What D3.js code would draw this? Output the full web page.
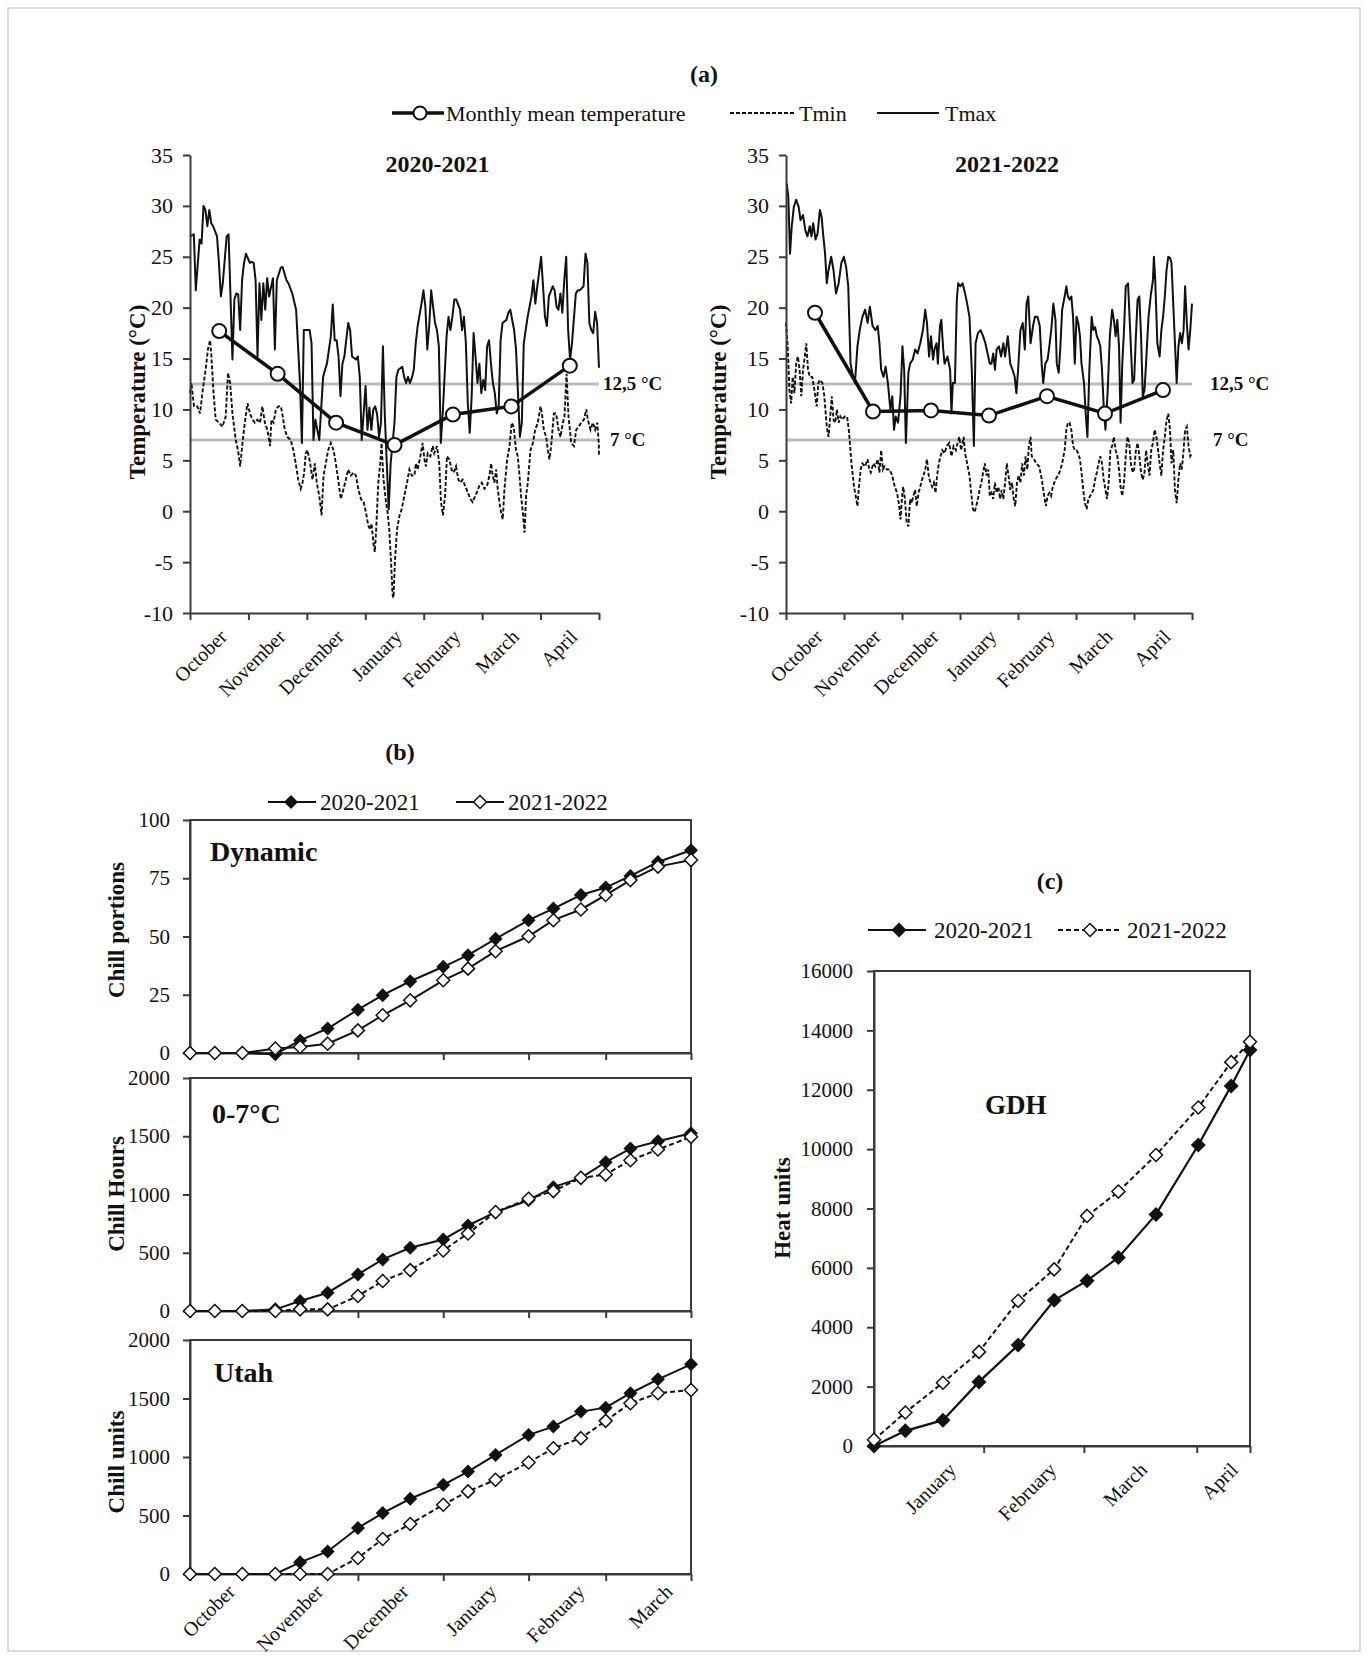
<!DOCTYPE html>
<html><head><meta charset="utf-8">
<script src="https://cdn.jsdelivr.net/npm/d3@7/dist/d3.min.js"></script>
<style>
body{margin:0;background:#fff}
svg{display:block}
text{font-family:"Liberation Serif","Times New Roman",serif;fill:#111}
</style>
</head><body>
<svg id="chart" width="1368" height="1659"></svg>
<script>
// ---------------- DATA ----------------
const months = ["October","November","December","January","February","March","April"];
const thresholds = [12.5, 7];
const thresholdLabels = ["12,5 °C", "7 °C"];
const tempTicks = [-10,-5,0,5,10,15,20,25,30,35];

// monthly mean temperature
const mean2021 = [17.7,13.5,8.7,6.5,9.5,10.3,14.3];
const mean2122 = [19.5,9.8,9.9,9.4,11.3,9.6,11.9];

// daily Tmax / Tmin  [day since 1 Oct, °C]
const tmax2021 = [[0,27.0],[2,27.2],[3,21.7],[5,26.7],[6,26.3],[7,30.0],[8,29.6],[9,28.0],[10,29.6],[11,28.3],[12,28.0],[14,27.0],[15,24.4],[16,21.1],[17,22.4],[19,27.0],[20,27.2],[22,14.9],[23,20.8],[24,21.4],[25,21.3],[26,17.8],[27,22.7],[28,24.4],[29,25.3],[31,24.4],[32,24.5],[33,24.4],[34,22.7],[35,15.2],[36,22.4],[37,18.8],[38,22.4],[39,19.8],[40,22.9],[41,21.1],[43,22.9],[44,15.9],[45,22.7],[47,23.9],[48,24.0],[50,22.7],[51,22.4],[53,21.4],[55,19.8],[57,12.6],[58,6.7],[59,17.8],[62,17.8],[63,16.5],[64,7.0],[65,9.0],[67,7.0],[69,13.2],[70,13.9],[71,14.5],[73,17.2],[74,20.3],[75,16.8],[76,16.8],[77,15.2],[78,11.3],[79,14.5],[80,15.2],[82,18.5],[83,17.8],[84,15.2],[86,14.9],[87,15.2],[88,13.2],[89,7.0],[90,9.6],[91,12.3],[92,8.0],[93,10.2],[94,8.0],[95,10.0],[96,10.3],[97,9.5],[98,7.3],[99,8.7],[100,16.2],[101,9.3],[102,4.7],[103,0.2],[104,4.7],[106,8.7],[107,13.2],[108,13.9],[110,14.2],[111,13.2],[112,12.6],[113,13.2],[114,12.6],[115,13.1],[116,13.9],[117,16.5],[118,18.2],[120,20.4],[121,21.7],[122,20.1],[123,15.9],[124,18.2],[125,21.7],[126,20.1],[127,18.5],[128,17.8],[129,16.2],[130,6.7],[131,9.6],[133,17.2],[134,19.1],[135,17.8],[136,19.1],[137,20.8],[138,20.8],[140,19.8],[141,17.8],[142,19.1],[143,16.5],[144,10.6],[145,7.7],[146,11.3],[147,17.5],[148,15.2],[149,12.6],[150,14.5],[151,11.6],[152,12.9],[153,11.9],[154,16.2],[155,16.8],[156,14.5],[157,12.6],[158,11.6],[159,9.6],[160,10.3],[161,16.8],[162,18.5],[164,18.8],[165,19.5],[166,19.8],[168,17.8],[169,15.9],[170,11.6],[171,7.3],[172,8.7],[173,16.5],[174,17.8],[175,19.1],[177,21.1],[178,22.7],[179,20.4],[180,22.1],[182,25.0],[183,22.1],[184,19.1],[185,18.2],[186,21.1],[188,22.1],[189,21.7],[190,20.1],[191,19.8],[192,21.4],[193,19.5],[194,22.7],[195,25.0],[196,17.8],[197,14.9],[198,16.5],[200,21.4],[201,21.7],[202,21.7],[204,22.1],[205,25.3],[206,24.4],[207,18.5],[208,17.8],[209,17.5],[210,19.6],[211,18.5],[212,14.1]];
const tmin2021 = [[0,11.6],[0.7,12.6],[2.1,10.3],[3.8,10.3],[5.2,9.6],[6.4,11.6],[8.1,13.9],[9.3,15.9],[10.4,16.8],[11.1,15.2],[12.1,11.9],[13.3,9.0],[15.1,8.7],[16.8,8.3],[18.5,9.3],[19.7,13.6],[20.8,12.6],[22,9.6],[23.7,7.0],[24.9,6.0],[26,4.4],[27.2,6.7],[28.4,8.7],[29.8,10.6],[31.1,9.6],[32.4,9.0],[33.6,8.7],[34.9,9.0],[36.3,8.7],[37.5,10.3],[38.8,8.7],[40.1,8.0],[41.5,6.4],[42.2,9.0],[43.3,8.7],[44.5,10.0],[45.7,10.3],[47.1,10.3],[48.1,9.3],[49.1,8.0],[50.5,7.3],[52.2,7.0],[53.6,6.0],[54.8,4.7],[56.1,3.1],[57.4,2.2],[58.3,2.8],[59.2,3.8],[60,5.7],[60.9,6.0],[62.3,4.7],[63.5,3.1],[64.7,4.7],[65.7,2.8],[67,1.5],[68.2,-0.4],[69.2,3.5],[70.4,4.7],[71.6,6.0],[73,6.7],[74.4,6.0],[75.6,4.7],[76.8,3.1],[78.2,1.2],[79.6,2.2],[80.8,3.1],[82,4.1],[83.4,3.5],[84.8,3.8],[86,3.5],[87.2,2.2],[88.6,1.2],[90,0.9],[91.2,-0.1],[92.4,-1.4],[93.4,-1.8],[94.1,-1.2],[95.2,-3.4],[95.8,-4.0],[96.5,-1.8],[97.6,2.8],[98.6,4.7],[99.3,6.7],[100.3,3.1],[101.6,0.9],[102.4,-0.1],[103.3,-1.8],[104.2,-5.0],[105,-8.2],[105.5,-8.5],[106.2,-5.0],[107.3,-1.8],[108.5,-0.5],[109.7,0.2],[111.1,1.5],[112.5,2.8],[113.7,4.1],[114.9,3.5],[116.3,3.5],[117.1,4.7],[118,4.1],[119.4,5.4],[120.6,6.7],[121.5,5.1],[122.3,4.4],[123.2,5.7],[124.6,5.4],[125.8,6.4],[126.6,5.7],[128,6.4],[129.2,4.7],[130.1,0.9],[131.1,-0.4],[132.2,1.5],[133.2,5.4],[134.4,5.1],[135.6,4.1],[136.7,3.8],[137.9,4.4],[139.1,3.1],[140.1,2.8],[141.3,3.1],[142.6,2.5],[143.9,1.9],[145.3,1.2],[146.5,0.9],[147.8,1.5],[148.8,1.9],[150,2.5],[151.2,2.8],[152.6,2.2],[154,2.5],[155.2,3.5],[156.1,4.7],[156.9,3.5],[157.8,2.8],[158.7,4.1],[159.5,2.2],[160.9,0.2],[162.1,-0.8],[163,2.2],[164.4,5.1],[165.6,6.4],[166.8,8.7],[167.8,8.3],[169,6.0],[169.9,5.4],[170.8,3.5],[171.6,1.5],[172.5,-0.1],[173.4,-2.1],[174.2,1.5],[175.1,2.8],[176.5,6.0],[177.7,6.7],[178.9,8.0],[180.3,8.7],[181.7,10.3],[182.4,9.6],[183.4,8.0],[184.6,7.3],[185.5,6.0],[186.3,5.1],[187.2,6.4],[188.6,9.6],[189.8,9.6],[191,8.0],[192,7.3],[193.3,8.7],[194.1,9.3],[195.2,13.5],[196.2,9.3],[197.6,6.7],[199,6.4],[200.2,8.0],[201.4,8.3],[202.8,8.7],[204.2,9.0],[205.4,10.0],[206.2,9.0],[207.6,8.0],[208.8,8.7],[210,8.0],[211.1,8.7],[211.9,6.7],[212,5.4]];
const tmax2122 = [[0.4,32.2],[1.2,30.9],[2.1,25.3],[3,28.0],[4.1,29.9],[5.3,30.6],[6.6,29.9],[7.6,28.6],[8.9,29.1],[10.1,27.6],[11.2,27.0],[12.4,28.0],[13.3,27.0],[14.2,28.3],[15.4,26.7],[16.5,27.3],[17.7,29.6],[18.6,28.9],[19.5,27.0],[20.4,25.3],[21.3,22.4],[22.2,23.7],[23.6,25.0],[24.8,23.7],[26.1,21.4],[27.5,22.4],[28.9,24.4],[30.2,25.0],[31.4,24.0],[32.5,22.1],[33.7,14.5],[34.6,13.6],[36,12.6],[37.3,16.2],[38.5,17.8],[39.9,19.1],[41.3,19.8],[42.6,18.5],[43.8,20.1],[45.2,18.2],[46.7,17.8],[47.9,18.2],[48.8,16.5],[49.7,13.9],[50.9,13.2],[52,14.2],[53.2,12.6],[54.5,10.0],[55.5,11.3],[56.4,8.0],[57.3,9.3],[58.5,8.7],[59.8,11.3],[60.8,16.2],[61.7,13.9],[62.6,6.7],[63.9,13.6],[64.8,14.5],[66.2,14.9],[67.4,15.9],[68.7,15.5],[70.1,16.5],[71.5,17.8],[72.7,19.8],[73.6,18.5],[74.7,15.2],[75.7,17.2],[76.8,14.9],[77.5,15.9],[78.6,16.5],[79.3,14.5],[80.4,18.2],[81.1,18.8],[82.1,15.9],[82.8,14.5],[84.3,15.2],[85.7,13.9],[86.4,9.6],[87.1,12.6],[88.2,12.6],[89.2,20.8],[89.9,22.4],[91,22.1],[92.2,22.4],[93.5,21.4],[94.6,20.4],[95.8,19.1],[97,13.9],[98.1,6.4],[99,16.5],[100.2,17.5],[101.6,17.8],[102.9,17.2],[104.1,16.5],[105.6,15.2],[106.4,14.5],[107.3,14.5],[108.2,15.5],[109.1,13.9],[110,15.9],[111.2,16.2],[112.3,15.2],[113.5,16.5],[114.4,15.2],[115.8,17.2],[117.1,14.5],[118.3,13.9],[119.4,13.2],[120.3,11.6],[121.2,13.9],[122.4,17.8],[123.6,18.5],[124.7,15.9],[125.6,20.4],[126.5,21.1],[127.7,16.5],[129,18.2],[130,19.1],[131.3,19.1],[132.5,18.2],[133.6,14.2],[134.3,12.6],[135.4,14.5],[136.6,14.9],[137.5,16.2],[138.5,17.8],[139.6,20.4],[140.7,18.8],[141.4,14.5],[142.4,13.6],[143.2,15.9],[144.2,19.8],[145.5,21.1],[146.4,22.1],[147.2,21.1],[148.1,20.8],[149,21.1],[149.9,19.1],[150.8,14.5],[151.7,19.1],[152.6,18.5],[153.5,17.2],[154.3,14.5],[155.6,12.6],[156.6,9.3],[157.4,7.3],[158.4,13.9],[159.6,19.1],[160.5,17.8],[161.4,18.1],[162.3,17.2],[163.2,16.8],[164.1,16.2],[165,13.9],[165.9,10.3],[166.8,8.0],[168,11.9],[169.1,17.2],[170.3,19.8],[171.2,18.8],[172.1,17.2],[173,18.8],[173.9,16.2],[174.7,8.7],[175.6,14.5],[176.5,17.8],[177.4,22.1],[178.6,22.4],[179.7,17.8],[180.9,12.6],[181.8,12.9],[182.7,17.2],[183.6,20.8],[184.5,21.1],[185.4,17.2],[186.3,11.3],[187.2,11.9],[188,14.5],[189.3,19.1],[190.4,21.1],[191.6,22.7],[192.1,25.0],[192.8,22.7],[193.9,16.5],[195.1,15.2],[196,17.8],[196.9,19.1],[197.8,21.1],[198.7,23.7],[199.6,25.0],[200.5,24.9],[201.3,24.4],[202.2,20.4],[203.1,16.5],[204,12.6],[204.9,16.2],[205.8,17.5],[206.7,16.5],[207.6,17.8],[208.4,22.1],[209.3,18.5],[210.2,15.9],[211.1,17.8],[212,20.4]];
const tmin2122 = [[0,18.5],[0.9,16.2],[1.8,11.9],[2.7,10.6],[3.5,13.2],[4.4,11.6],[5.3,14.5],[6.2,15.2],[7.1,13.9],[8,11.3],[8.9,13.9],[9.8,15.2],[10.6,16.5],[11.5,13.9],[12.4,13.2],[13.7,13.2],[15.1,11.6],[16,10.3],[16.9,12.6],[17.7,12.9],[19,12.6],[20,11.3],[21.3,8.3],[22.2,7.3],[23.1,9.3],[23.9,11.3],[24.8,9.0],[25.7,8.7],[26.6,10.0],[27.5,8.7],[28.4,9.3],[29.3,9.0],[30.7,9.3],[31.9,9.3],[32.8,8.0],[34.2,4.7],[35.5,2.4],[36.4,1.5],[37.3,0.5],[38.1,2.4],[39,4.1],[39.9,4.7],[41.3,4.4],[42.6,5.1],[43.5,4.1],[44.3,3.8],[45.6,4.7],[46.7,4.4],[47.9,5.1],[48.8,3.8],[49.7,6.0],[50.6,4.1],[51.4,4.4],[52.7,4.1],[54.1,4.1],[55.5,3.5],[56.8,2.4],[58,1.8],[59.1,0.5],[59.8,-0.8],[60.5,1.2],[61.2,2.4],[62.1,1.2],[63,-1.1],[63.9,-1.5],[64.8,1.2],[65.6,0.8],[66.5,1.5],[67.4,2.1],[68.3,0.5],[69.2,1.8],[70.1,2.4],[71,3.1],[71.8,3.5],[72.7,4.1],[73.6,5.1],[74.5,3.5],[75.4,2.8],[76.3,2.4],[77.2,2.8],[78.1,1.8],[78.9,3.5],[79.8,4.7],[80.7,5.4],[81.6,6.0],[82.8,5.7],[83.9,6.4],[85.2,6.7],[86.4,5.4],[87.5,6.4],[88.7,6.0],[89.6,6.7],[90.5,7.3],[91.4,6.0],[92.8,7.3],[93.5,5.7],[94.6,4.7],[95.8,3.5],[96.7,1.8],[97.6,0.2],[98.5,-0.1],[99.3,0.5],[100.2,1.2],[101.1,2.1],[102,2.8],[102.9,3.8],[103.8,4.7],[104.7,3.5],[105.6,4.1],[106.4,1.5],[107.3,1.8],[108.2,1.2],[109.1,2.8],[110,1.8],[110.9,2.4],[111.8,1.2],[112.6,2.1],[113.5,1.2],[114.4,2.8],[115.3,4.7],[116.2,3.5],[117.1,2.1],[118,2.8],[118.9,1.2],[119.7,0.5],[120.6,2.8],[121.5,3.5],[122.4,2.8],[123.3,4.7],[124.2,3.5],[125.1,5.4],[126,4.1],[126.8,6.4],[127.7,7.3],[128.3,5.4],[129.5,5.1],[130.7,4.7],[132.2,4.4],[133.6,3.1],[134.8,1.5],[135.7,0.5],[136.6,1.5],[137.5,1.8],[138.4,1.5],[139.3,2.4],[140.7,3.1],[141.9,3.5],[142.8,3.8],[144.2,4.7],[145.5,6.0],[146.4,8.0],[147.2,8.7],[148.1,8.7],[149,8.0],[149.9,6.4],[150.8,6.0],[151.7,6.0],[152.6,5.7],[153.5,5.1],[154.3,3.8],[155.2,2.1],[156.1,0.8],[157,0.2],[157.9,1.2],[158.8,1.5],[159.7,1.8],[160.5,2.1],[161.4,3.1],[162.3,3.8],[163.2,4.7],[164.1,5.4],[165,4.7],[165.9,3.1],[166.8,2.1],[167.6,1.2],[168.5,2.8],[169.4,6.0],[170.3,6.4],[171.2,7.3],[172.1,6.0],[173,5.4],[173.9,4.1],[174.7,2.4],[175.6,1.5],[176.5,2.8],[177.4,5.4],[178.3,7.3],[179.2,6.7],[180.1,4.7],[181,3.8],[181.8,4.1],[182.7,6.0],[183.6,6.7],[184.5,5.4],[185.4,3.8],[186.3,3.1],[187.2,3.8],[188,6.0],[188.9,4.7],[189.8,3.5],[190.7,6.0],[191.6,6.7],[192.5,8.0],[193.4,7.3],[194.3,6.0],[195.1,4.7],[196,3.5],[196.9,6.0],[197.8,7.3],[198.7,8.9],[199.6,9.6],[200.5,8.0],[201.3,4.7],[202.2,6.0],[203.1,2.1],[204,0.8],[204.9,3.1],[205.8,4.7],[206.7,4.1],[207.6,6.0],[208.4,8.0],[209.3,8.3],[210.2,6.4],[211.1,5.4],[212,5.7]];

// panel (b): sampling dates (days since 1 Oct: 1,10,20 of each month) and accumulated chill
const chillDays = [0,9,19,31,40,50,61,70,80,92,101,111,123,132,142,151,160,170,182];
const chillTickDays = [0,61,92,123,151,182];
const chillMonths = ["October","November","December","January","February","March"];
const chillLabelDays = [15,47,78,110,142,174];
const dynamic2021 = [0,0,0,-0.5,5.4,10.5,18.6,24.8,30.8,37,42,49,57,62,67.8,71,76,82,87];
const dynamic2122 = [0,0,0,1.9,2.6,4,9.7,16.2,22.6,31.2,36.2,43.7,50.1,57,61.6,67.8,74.2,80,82.8];
const chillHours2021 = [0,0,0,14,86,157,314,443,543,614,734,849,951,1063,1143,1277,1394,1457,1525];
const chillHours2122 = [0,0,0,0,14,14,129,257,351,520,666,849,963,1029,1143,1171,1294,1386,1495];
const utah2021 = [0,0,0,0,100,193,393,521,643,762,876,1018,1189,1260,1388,1422,1545,1664,1792];
const utah2122 = [0,0,0,0,0,0,137,299,427,592,706,805,953,1075,1161,1309,1459,1545,1573];

// panel (c): growing degree hours
const gdhDays = [0,10,22,33.5,46,57.5,68,78,90,103.5,114,120];
const gdhTickDays = [35,67,103,120];
const gdhMonths = ["January","February","March","April"];
const gdhLabelDays = [25,57,86,115];
const gdh2021 = [0,510,870,2160,3400,4910,5570,6350,7800,10140,12130,13340];
const gdh2122 = [210,1130,2130,3170,4890,5950,7750,8570,9800,11400,12930,13620];

// ---------------- DRAWING ----------------
const svg = d3.select("#chart");
const INK = "#111", AX = "#3a3a3a", TICKC = "#333";
const plain = d => String(d);

svg.append("rect").attr("x",8).attr("y",8).attr("width",1352).attr("height",1643)
  .attr("fill","none").attr("stroke","#cfcfcf").attr("stroke-width",1.5);

function styleAxis(g, fs){
  g.select(".domain").attr("stroke",AX).attr("stroke-width",2);
  g.selectAll(".tick line").attr("stroke",AX).attr("stroke-width",2);
  g.selectAll(".tick text").attr("fill",TICKC).style("font-size",(fs||20)+"px")
    .style("font-family",'"Liberation Serif","Times New Roman",serif');
}
function diamond(r){ return `M0,${-r}L${r},0L0,${r}L${-r},0Z`; }

// ---- panel (a) ----
svg.append("text").attr("x",704).attr("y",82).attr("text-anchor","middle")
  .style("font-size","24px").style("font-weight","bold").text("(a)");

const legA = svg.append("g");
legA.append("line").attr("x1",392).attr("x2",444).attr("y1",113).attr("y2",113).attr("stroke",INK).attr("stroke-width",3.5);
legA.append("circle").attr("cx",420).attr("cy",113).attr("r",6.5).attr("fill","#fff").attr("stroke",INK).attr("stroke-width",2);
legA.append("text").attr("x",446).attr("y",113).attr("dy","0.35em").style("font-size","22px").text("Monthly mean temperature");
legA.append("line").attr("x1",730).attr("x2",794).attr("y1",113).attr("y2",113).attr("stroke",INK).attr("stroke-width",2).attr("stroke-dasharray","4,2");
legA.append("text").attr("x",799).attr("y",113).attr("dy","0.35em").style("font-size","22px").text("Tmin");
legA.append("line").attr("x1",877).attr("x2",939).attr("y1",113).attr("y2",113).attr("stroke",INK).attr("stroke-width",2);
legA.append("text").attr("x",945).attr("y",113).attr("dy","0.35em").style("font-size","22px").text("Tmax");

function tempPanel(o){
  const y = d3.scaleLinear().domain([-10,35]).range([613,155]);
  const xd = d3.scaleLinear().domain([0,212]).range([o.x0,o.x1]);
  const xb = d3.scaleBand().domain(months).range([o.x0,o.x1]);
  const xm = d3.scaleLinear().domain([0,months.length]).range([o.x0,o.x1]);
  const g = svg.append("g");

  thresholds.forEach((t,i)=>{
    g.append("line").attr("x1",o.x0).attr("x2",o.x1).attr("y1",y(t)).attr("y2",y(t))
      .attr("stroke","#bcbcbc").attr("stroke-width",3);
    g.append("text").attr("x",o.labelX[i]).attr("y",y(t)-1).attr("dy","0.35em")
      .style("font-size","19px").style("font-weight","bold").text(thresholdLabels[i]);
  });

  const line = d3.line().x(d=>xd(d[0])).y(d=>y(d[1]));
  g.append("path").attr("d",line(o.tmin)).attr("fill","none").attr("stroke",INK)
    .attr("stroke-width",1.9).attr("stroke-dasharray","4,2");
  g.append("path").attr("d",line(o.tmax)).attr("fill","none").attr("stroke",INK)
    .attr("stroke-width",2).attr("stroke-linejoin","round");

  const cx = (d,i)=>xb(months[i])+xb.bandwidth()/2;
  g.append("path").attr("d",d3.line().x(cx).y(d=>y(d))(o.mean)).attr("fill","none")
    .attr("stroke",INK).attr("stroke-width",3.5);
  g.selectAll("circle.m").data(o.mean).join("circle").attr("class","m")
    .attr("cx",cx).attr("cy",d=>y(d)).attr("r",7).attr("fill","#fff").attr("stroke",INK).attr("stroke-width",2);

  const ya = g.append("g").attr("transform",`translate(${o.x0},0)`)
    .call(d3.axisLeft(y).tickValues(tempTicks).tickSize(7).tickSizeOuter(0).tickPadding(10).tickFormat(plain));
  styleAxis(ya, 22);
  const xa = g.append("g").attr("transform",`translate(0,${y(-10)})`)
    .call(d3.axisBottom(xm).tickValues(d3.range(0,months.length+1)).tickSize(7).tickSizeOuter(0).tickFormat(""));
  styleAxis(xa);

  g.selectAll("text.ml").data(months).join("text").attr("class","ml")
    .attr("transform",d=>`translate(${xb(d)+xb.bandwidth()/2+4},${y(-10)+20}) rotate(-45)`)
    .attr("text-anchor","end").attr("dy","0.35em").style("font-size","20px").attr("fill","#222").text(d=>d);

  g.append("text").attr("x",(o.x0+o.x1)/2+o.titleDx).attr("y",172).attr("text-anchor","middle")
    .style("font-size","24px").style("font-weight","bold").text(o.title);
  g.append("text").attr("transform",`translate(${o.ytX},392) rotate(-90)`).attr("text-anchor","middle")
    .attr("dy","0.35em").style("font-size","23px").style("font-weight","bold").text("Temperature (°C)");
}
tempPanel({x0:190,x1:599,tmax:tmax2021,tmin:tmin2021,mean:mean2021,title:"2020-2021",titleDx:43,labelX:[603,610],ytX:137});
tempPanel({x0:786,x1:1192,tmax:tmax2122,tmin:tmin2122,mean:mean2122,title:"2021-2022",titleDx:18,labelX:[1210,1213],ytX:718});

// ---- panel (b) ----
svg.append("text").attr("x",400).attr("y",760).attr("text-anchor","middle")
  .style("font-size","24px").style("font-weight","bold").text("(b)");
const legB = svg.append("g");
legB.append("line").attr("x1",268).attr("x2",316).attr("y1",802).attr("y2",802).attr("stroke",INK).attr("stroke-width",2);
legB.append("path").attr("d",diamond(7)).attr("transform","translate(291,802)").attr("fill",INK);
legB.append("text").attr("x",320).attr("y",802).attr("dy","0.35em").style("font-size","23px").text("2020-2021");
legB.append("line").attr("x1",456).attr("x2",504).attr("y1",802).attr("y2",802).attr("stroke",INK).attr("stroke-width",2);
legB.append("path").attr("d",diamond(6.5)).attr("transform","translate(480,802)").attr("fill","#fff").attr("stroke",INK).attr("stroke-width",1.5);
legB.append("text").attr("x",508).attr("y",802).attr("dy","0.35em").style("font-size","23px").text("2021-2022");

const xB = d3.scaleLinear().domain([0,182]).range([190,691]);

function chillPanel(o){
  const y = d3.scaleLinear().domain([0,o.max]).range([o.bottom,o.top]);
  const g = svg.append("g");
  g.append("rect").attr("x",xB(0)).attr("y",o.top).attr("width",xB(182)-xB(0)).attr("height",o.bottom-o.top)
    .attr("fill","none").attr("stroke",AX).attr("stroke-width",2);
  const ya = g.append("g").attr("transform",`translate(${xB(0)},0)`)
    .call(d3.axisLeft(y).tickValues(o.ticks).tickSize(7).tickSizeOuter(0).tickPadding(13).tickFormat(plain));
  styleAxis(ya, 21);
  const xa = g.append("g").attr("transform",`translate(0,${o.bottom})`)
    .call(d3.axisBottom(xB).tickValues(chillTickDays).tickSize(7).tickSizeOuter(0).tickFormat(""));
  styleAxis(xa);

  const line = d3.line().x((d,i)=>xB(chillDays[i])).y(d=>y(d));
  g.append("path").attr("d",line(o.s2)).attr("fill","none").attr("stroke",INK).attr("stroke-width",2)
    .attr("stroke-dasharray",o.dash2 ? "5,3" : null);
  g.append("path").attr("d",line(o.s1)).attr("fill","none").attr("stroke",INK).attr("stroke-width",2);
  g.selectAll("path.f").data(o.s1).join("path").attr("class","f").attr("d",diamond(7))
    .attr("transform",(d,i)=>`translate(${xB(chillDays[i])},${y(d)})`).attr("fill",INK);
  g.selectAll("path.o").data(o.s2).join("path").attr("class","o").attr("d",diamond(6.5))
    .attr("transform",(d,i)=>`translate(${xB(chillDays[i])},${y(d)})`).attr("fill","#fff").attr("stroke",INK).attr("stroke-width",1.5);

  g.append("text").attr("x",o.labelX).attr("y",o.labelY).style("font-size","28px").style("font-weight","bold").text(o.label);
  g.append("text").attr("transform",`translate(116,${o.ytY}) rotate(-90)`).attr("text-anchor","middle")
    .attr("dy","0.35em").style("font-size","23px").style("font-weight","bold").text(o.ytitle);
  if(o.xlabels){
    g.selectAll("text.ml").data(chillMonths).join("text").attr("class","ml")
      .attr("transform",(d,i)=>`translate(${xB(chillLabelDays[i])},${o.bottom+14}) rotate(-45)`)
      .attr("text-anchor","end").attr("dy","0.35em").style("font-size","20px").attr("fill","#222").text(d=>d);
  }
}
chillPanel({top:820,bottom:1053,max:100,ticks:[0,25,50,75,100],s1:dynamic2021,s2:dynamic2122,dash2:false,label:"Dynamic",labelX:210,labelY:861,ytitle:"Chill portions",ytY:930});
chillPanel({top:1078,bottom:1311,max:2000,ticks:[0,500,1000,1500,2000],s1:chillHours2021,s2:chillHours2122,dash2:true,label:"0-7°C",labelX:212,labelY:1123,ytitle:"Chill Hours",ytY:1194});
chillPanel({top:1340,bottom:1574,max:2000,ticks:[0,500,1000,1500,2000],s1:utah2021,s2:utah2122,dash2:true,label:"Utah",labelX:214,labelY:1382,ytitle:"Chill units",ytY:1462,xlabels:true});

// ---- panel (c) ----
svg.append("text").attr("x",1050).attr("y",889).attr("text-anchor","middle")
  .style("font-size","24px").style("font-weight","bold").text("(c)");
const legC = svg.append("g");
legC.append("line").attr("x1",868).attr("x2",926).attr("y1",930).attr("y2",930).attr("stroke",INK).attr("stroke-width",2);
legC.append("path").attr("d",diamond(7.5)).attr("transform","translate(899,930)").attr("fill",INK);
legC.append("text").attr("x",934).attr("y",930).attr("dy","0.35em").style("font-size","23px").text("2020-2021");
legC.append("line").attr("x1",1058).attr("x2",1122).attr("y1",930).attr("y2",930).attr("stroke",INK).attr("stroke-width",2).attr("stroke-dasharray","5,3");
legC.append("path").attr("d",diamond(6.5)).attr("transform","translate(1090,930)").attr("fill","#fff").attr("stroke",INK).attr("stroke-width",1.5);
legC.append("text").attr("x",1127).attr("y",930).attr("dy","0.35em").style("font-size","23px").text("2021-2022");

(function(){
  const x = d3.scaleLinear().domain([0,120]).range([874,1250]);
  const y = d3.scaleLinear().domain([0,16000]).range([1446,971]);
  const g = svg.append("g");
  g.append("rect").attr("x",x(0)).attr("y",y(16000)).attr("width",x(120)-x(0)).attr("height",y(0)-y(16000))
    .attr("fill","none").attr("stroke",AX).attr("stroke-width",2);
  const ya = g.append("g").attr("transform",`translate(${x(0)},0)`)
    .call(d3.axisLeft(y).tickValues(d3.range(0,16001,2000)).tickSize(7).tickSizeOuter(0).tickPadding(14).tickFormat(plain));
  styleAxis(ya, 21);
  const xa = g.append("g").attr("transform",`translate(0,${y(0)})`)
    .call(d3.axisBottom(x).tickValues(gdhTickDays).tickSize(7).tickSizeOuter(0).tickFormat(""));
  styleAxis(xa);
  const line = d3.line().x((d,i)=>x(gdhDays[i])).y(d=>y(d));
  g.append("path").attr("d",line(gdh2122)).attr("fill","none").attr("stroke",INK).attr("stroke-width",2).attr("stroke-dasharray","5,3");
  g.append("path").attr("d",line(gdh2021)).attr("fill","none").attr("stroke",INK).attr("stroke-width",2.2);
  g.selectAll("path.f").data(gdh2021).join("path").attr("class","f").attr("d",diamond(7.5))
    .attr("transform",(d,i)=>`translate(${x(gdhDays[i])},${y(d)})`).attr("fill",INK);
  g.selectAll("path.o").data(gdh2122).join("path").attr("class","o").attr("d",diamond(6.5))
    .attr("transform",(d,i)=>`translate(${x(gdhDays[i])},${y(d)})`).attr("fill","#fff").attr("stroke",INK).attr("stroke-width",1.5);
  g.append("text").attr("x",985).attr("y",1114).style("font-size","27px").style("font-weight","bold").text("GDH");
  g.append("text").attr("transform",`translate(782,1208) rotate(-90)`).attr("text-anchor","middle")
    .attr("dy","0.35em").style("font-size","23px").style("font-weight","bold").text("Heat units");
  g.selectAll("text.ml").data(gdhMonths).join("text").attr("class","ml")
    .attr("transform",(d,i)=>`translate(${x(gdhLabelDays[i])},${y(0)+20}) rotate(-45)`)
    .attr("text-anchor","end").attr("dy","0.35em").style("font-size","20px").attr("fill","#222").text(d=>d);
})();
</script>
</body></html>
